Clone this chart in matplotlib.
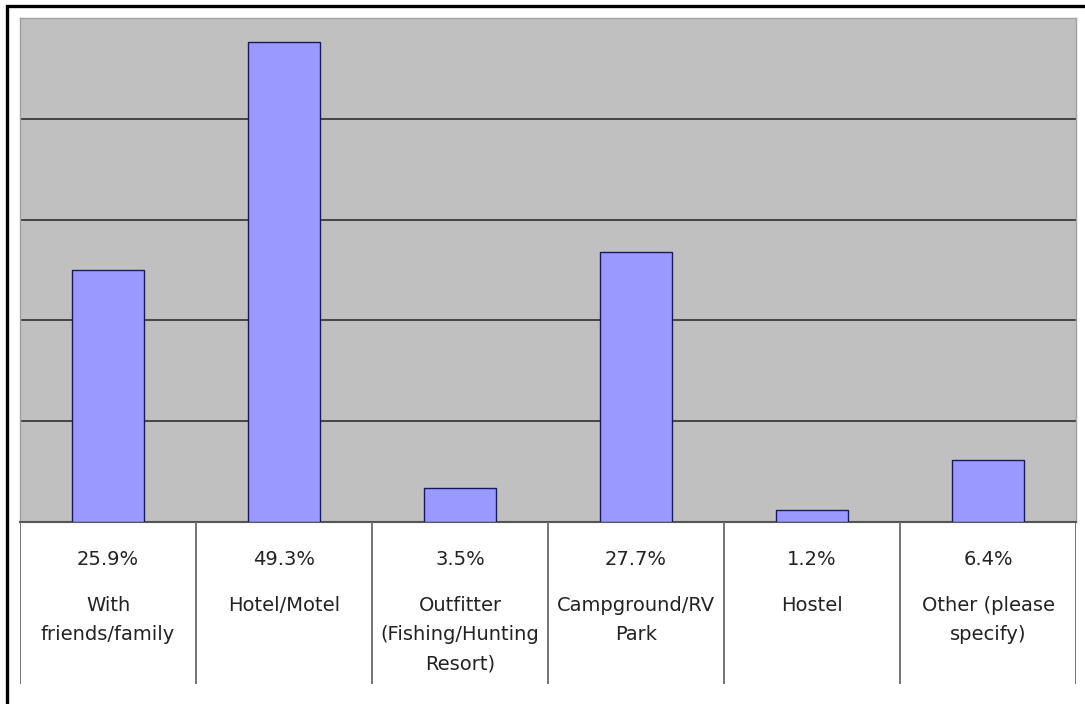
import matplotlib
matplotlib.use("Agg")
import matplotlib.pyplot as plt
import numpy as np
from matplotlib.patches import Rectangle

plt.rcParams["font.family"] = ["DejaVu Sans"]

categories = [
    "With\nfriends/family",
    "Hotel/Motel",
    "Outfitter\n(Fishing/Hunting\nResort)",
    "Campground/RV\nPark",
    "Hostel",
    "Other (please\nspecify)",
]
shares = [25.9, 49.3, 3.5, 27.7, 1.2, 6.4]

y_top = 51.8
x = np.arange(len(categories))

fig = plt.figure(figsize=(10.85, 7.04), dpi=100)

# outer frame
fig.patches.append(Rectangle((7 / 1085, -0.05), 1.2, 698 / 704 + 0.05,
                             transform=fig.transFigure, fill=False,
                             edgecolor="black", linewidth=2.4))

ax = fig.add_axes([20 / 1085, 182 / 704, 1056 / 1085, 504 / 704])
ax.set_facecolor("#c0c0c0")
ax.bar(x, shares, width=0.41, color="#9999ff", edgecolor="#1a1a5a",
       linewidth=1.0, zorder=3)
ax.set_xlim(-0.5, len(categories) - 0.5)
ax.set_ylim(0, y_top)
for g in np.linspace(0, y_top, 6)[1:-1]:
    ax.axhline(g, color="#3a3a3a", linewidth=1.3, zorder=1)
ax.set_xticks([])
ax.set_yticks([])
for side in ["top", "left", "right"]:
    ax.spines[side].set_color("#a0a0a0")
    ax.spines[side].set_linewidth(1.0)
ax.spines["bottom"].set_color("#555555")
ax.spines["bottom"].set_linewidth(1.5)

# data table under the bars (y in pixels from the table bottom)
tab = fig.add_axes([20 / 1085, 20 / 704, 1056 / 1085, 162 / 704])
tab.set_xlim(-0.5, len(categories) - 0.5)
tab.set_ylim(0, 162)
tab.axis("off")
for b in np.arange(len(categories) + 1) - 0.5:
    tab.axvline(b, color="#6a6a6a", linewidth=1.3)
for i, (lab, val) in enumerate(zip(categories, shares)):
    tab.text(i, 119, f"{val}%", ha="center", va="baseline",
             fontsize=14, color="#222222")
    for k, line in enumerate(lab.split("\n")):
        tab.text(i, 73 - 29 * k, line, ha="center", va="baseline",
                 fontsize=14, color="#222222")

fig.savefig("out.png", dpi=100, facecolor="white")
